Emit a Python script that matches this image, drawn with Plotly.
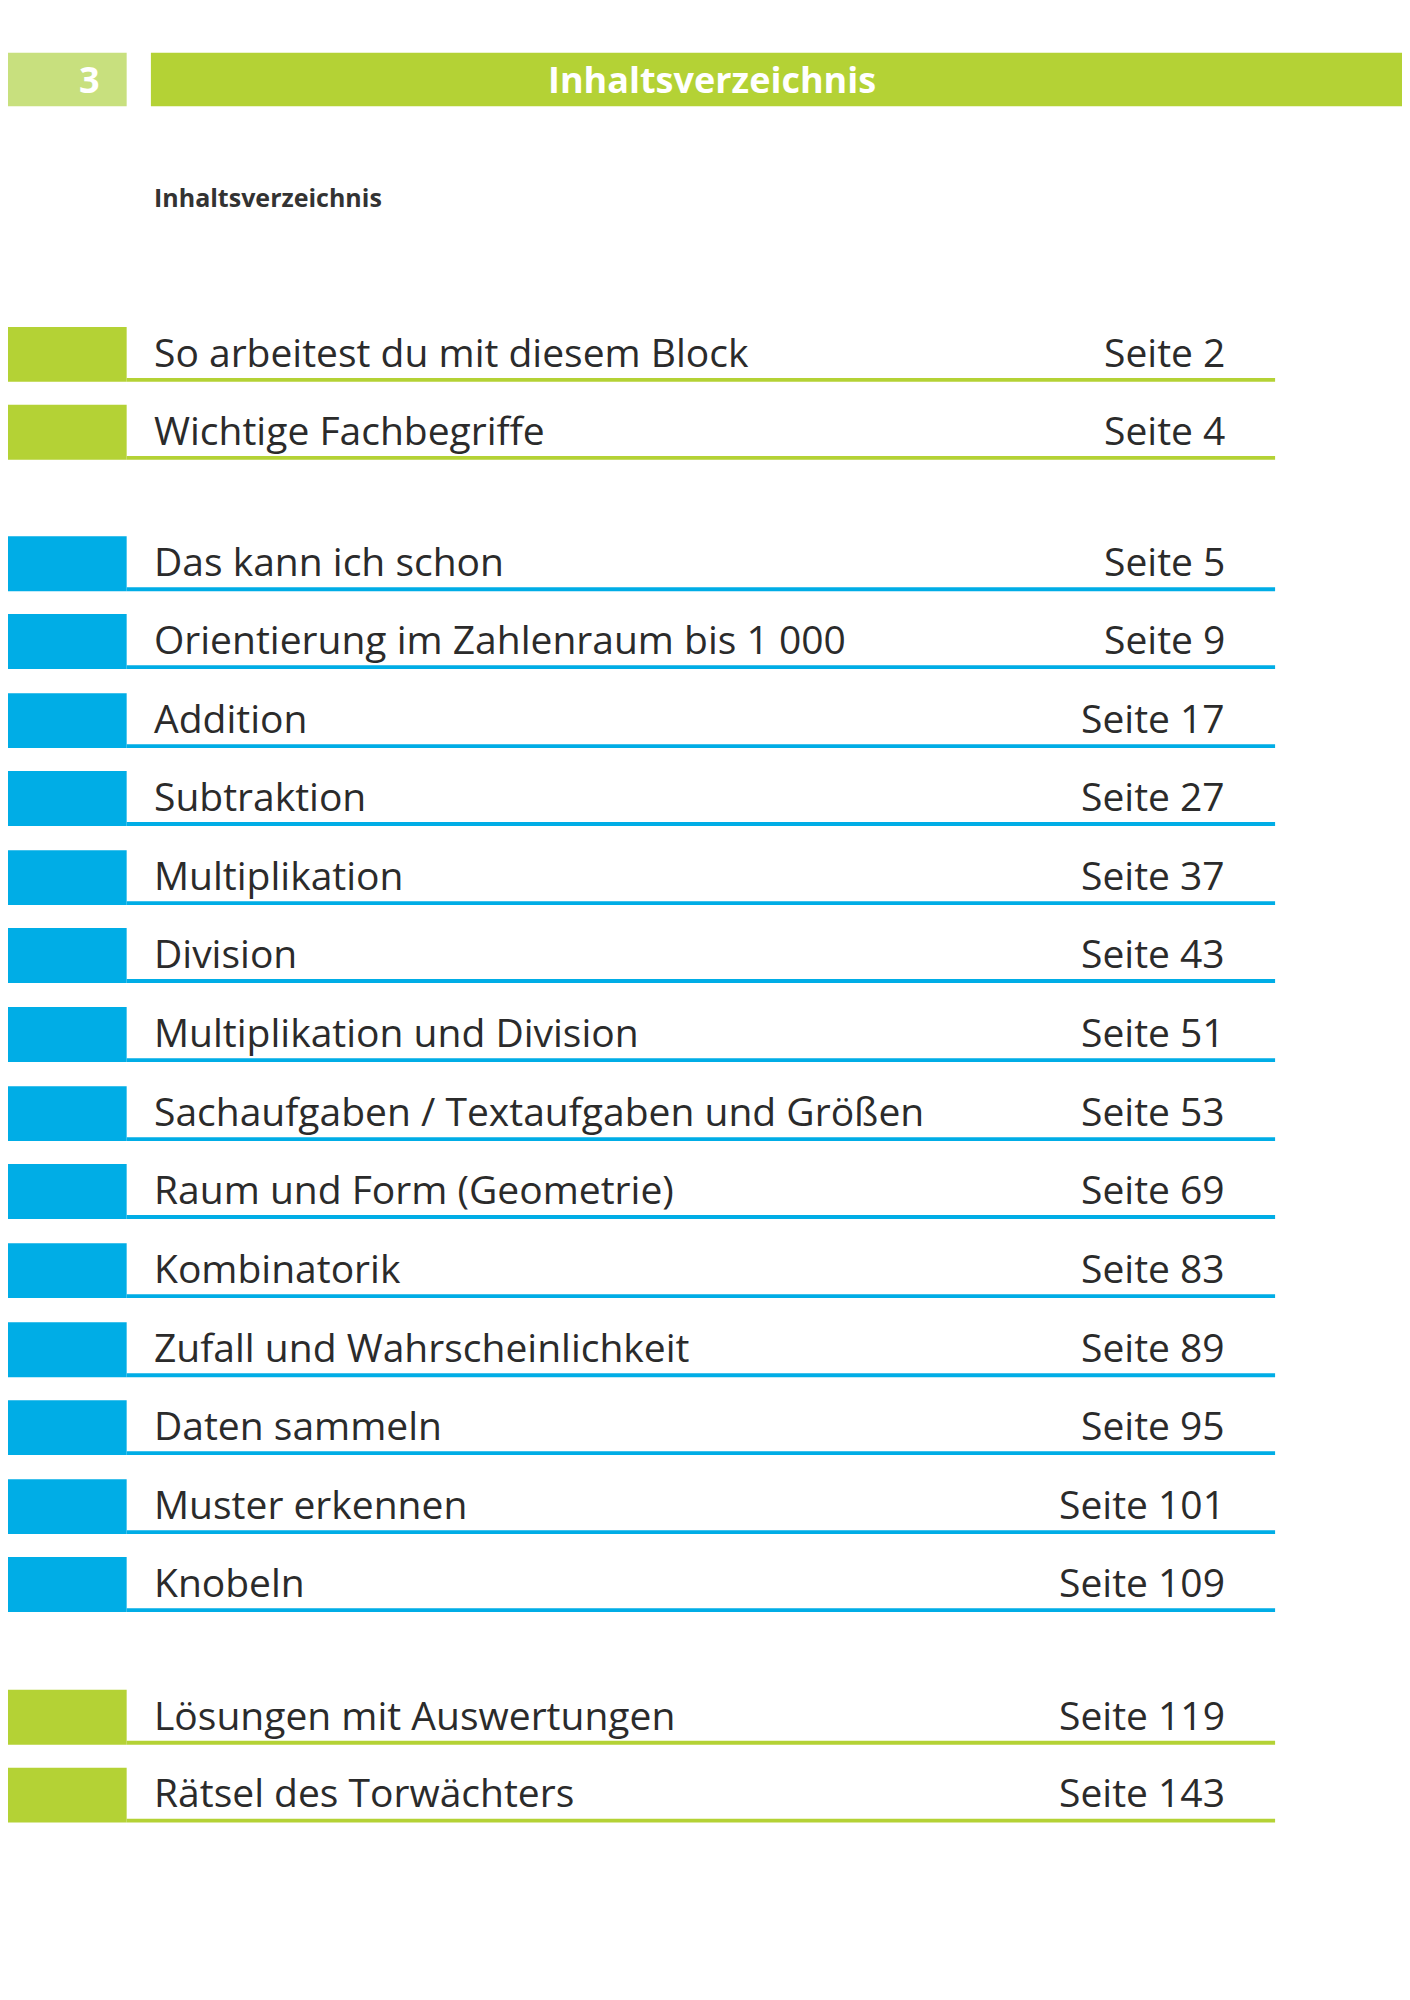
import plotly.graph_objects as go

titles = ["So arbeitest du mit diesem Block", "Wichtige Fachbegriffe", "Das kann ich schon",
          "Orientierung im Zahlenraum bis 1 000", "Addition", "Subtraktion", "Multiplikation",
          "Division", "Multiplikation und Division", "Sachaufgaben / Textaufgaben und Größen",
          "Raum und Form (Geometrie)", "Kombinatorik", "Zufall und Wahrscheinlichkeit",
          "Daten sammeln", "Muster erkennen", "Knobeln", "Lösungen mit Auswertungen",
          "Rätsel des Torwächters"]
pages = ["Seite 2", "Seite 4", "Seite 5", "Seite 9", "Seite 17", "Seite 27", "Seite 37",
         "Seite 43", "Seite 51", "Seite 53", "Seite 69", "Seite 83", "Seite 89", "Seite 95",
         "Seite 101", "Seite 109", "Seite 119", "Seite 143"]
groups = ["g", "g"] + ["b"] * 14 + ["g", "g"]
row_y_disp = [269, 330, 433, 494, 556, 617, 679, 740, 802, 864, 925, 987, 1049, 1110, 1172, 1233, 1337, 1398]

S = 1410 / 1105
GREEN = "#b4d235"
LGREEN = "#c8e07e"
BLUE = "#00ade6"
FONT = "Open Sans"

fig = go.Figure()
shapes = []
ann = []
# header
shapes.append(dict(type="rect", x0=0, x1=93 * S, y0=35 * S, y1=77 * S, fillcolor=LGREEN, line_width=0))
shapes.append(dict(type="rect", x0=112 * S, x1=1410, y0=35 * S, y1=77 * S, fillcolor=GREEN, line_width=0))
ann.append(dict(x=64 * S, y=56 * S, text="<b>3</b>", showarrow=False, font=dict(size=36, color="white", family=FONT)))
ann.append(dict(x=552 * S, y=56 * S, text="<b>Inhaltsverzeichnis</b>", showarrow=False, font=dict(size=36, color="white", family=FONT)))
ann.append(dict(x=113 * S, y=148 * S, text="<b>Inhaltsverzeichnis</b>", showarrow=False, xanchor="left",
                font=dict(size=25, color="#333333", family=FONT)))

for t, p, g, yd in zip(titles, pages, groups, row_y_disp):
    c = GREEN if g == "g" else BLUE
    shapes.append(dict(type="rect", x0=0, x1=93 * S, y0=(yd - 19) * S, y1=(yd + 24) * S, fillcolor=c, line_width=0))
    shapes.append(dict(type="rect", x0=93 * S, x1=993 * S, y0=(yd + 21) * S, y1=(yd + 24) * S, fillcolor=c, line_width=0))
    ann.append(dict(x=113 * S, y=yd * S, text=t, showarrow=False, xanchor="left",
                    font=dict(size=39, color="#2b2b2b", family=FONT)))
    ann.append(dict(x=955 * S, y=yd * S, text=p, showarrow=False, xanchor="right",
                    font=dict(size=39, color="#2b2b2b", family=FONT)))

fig.update_layout(width=1410, height=2000, margin=dict(l=0, r=0, t=0, b=0),
                  plot_bgcolor="white", paper_bgcolor="white", shapes=shapes, annotations=ann,
                  xaxis=dict(range=[0, 1410], visible=False, fixedrange=True),
                  yaxis=dict(range=[2000, 0], visible=False, fixedrange=True), showlegend=False)
fig.write_html("out.html")
